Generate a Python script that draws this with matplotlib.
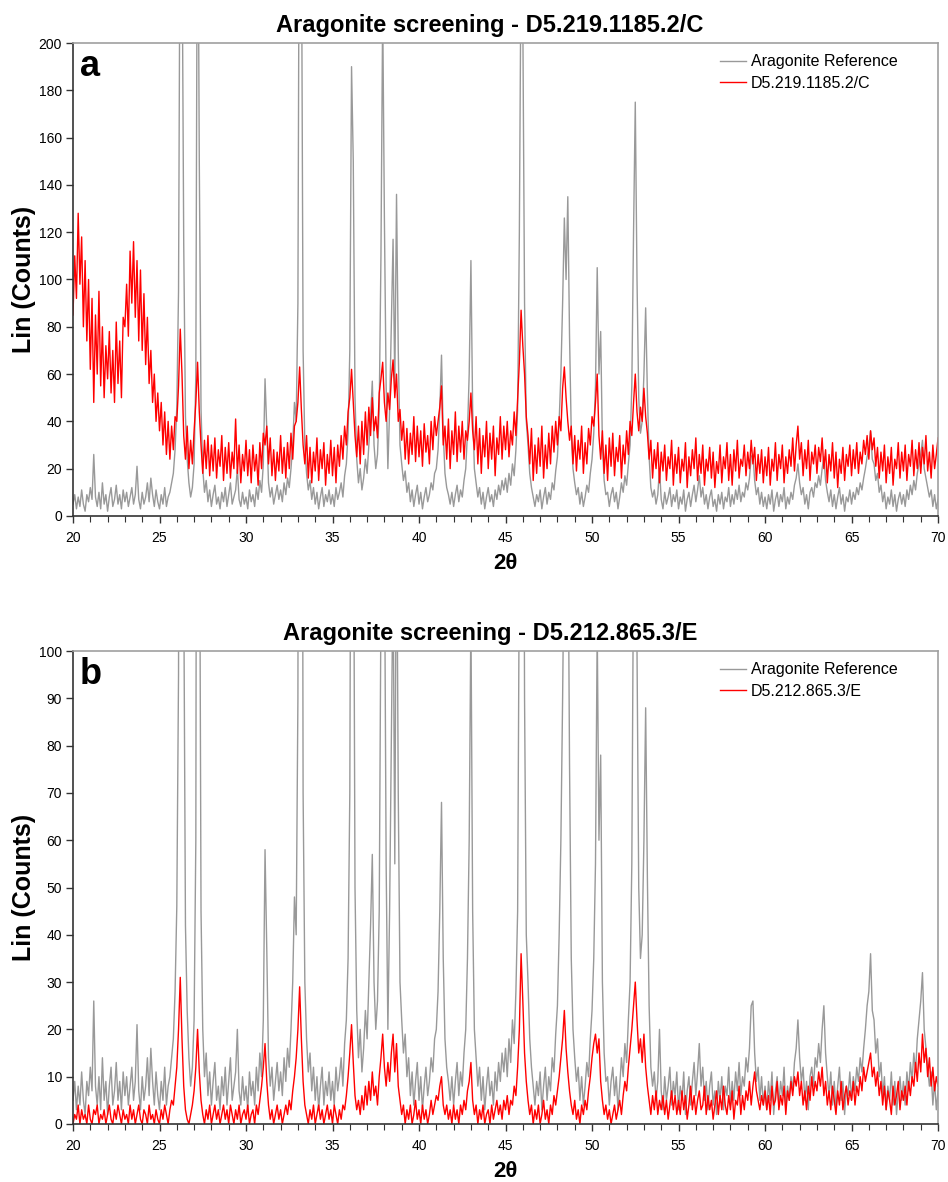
import numpy as np
import matplotlib.pyplot as plt

plt.rcParams['font.family'] = ['Liberation Sans', 'DejaVu Sans']

# 2-theta grid, 0.1 degree steps from 20 to 70
two_theta = np.round(20 + 0.1 * np.arange(501), 1)

# aragonite reference pattern (counts)
ref_20 = [5, 9, 3, 8, 4, 11, 5, 2, 9, 6, 12, 7, 26, 8, 4, 10, 3, 14, 5, 9,
          2, 8, 12, 4, 7, 13, 5, 9, 3, 11, 6, 10, 4, 8, 12, 5, 9, 21, 7, 3,
          10, 5, 8, 14, 6, 16, 9, 4, 11, 6]
ref_25 = [3, 9, 5, 12, 4, 8, 10, 14, 18, 28, 46, 95, 280, 250, 115, 42, 24, 14, 8, 12,
          22, 60, 300, 150, 45, 20, 10, 15, 6, 11, 4, 9, 13, 5, 8, 3, 10, 6, 12, 4,
          9, 14, 5, 8, 11, 20, 7, 4, 10, 5]
ref_30 = [8, 3, 11, 6, 9, 4, 12, 7, 15, 10, 22, 58, 37, 14, 8, 12, 5, 9, 13, 7,
          11, 6, 14, 9, 16, 12, 20, 30, 48, 40, 90, 320, 260, 70, 30, 18, 11, 15, 7, 12,
          5, 10, 3, 8, 12, 4, 9, 6, 11, 5]
ref_35 = [9, 4, 12, 7, 10, 14, 8, 17, 22, 35, 70, 190, 150, 50, 24, 14, 20, 11, 16, 24,
          18, 30, 42, 57, 30, 20, 26, 45, 110, 215, 125, 55, 20, 45, 80, 117, 55, 136, 70, 30,
          22, 15, 19, 10, 14, 6, 11, 4, 9, 13]
ref_40 = [5, 10, 3, 8, 12, 6, 9, 14, 11, 18, 20, 28, 45, 68, 35, 18, 12, 9, 5, 10,
          4, 9, 13, 6, 11, 8, 15, 20, 35, 60, 108, 45, 20, 14, 8, 12, 5, 10, 3, 8,
          12, 6, 9, 4, 11, 7, 13, 9, 15, 11]
ref_45 = [16, 10, 18, 13, 22, 17, 28, 45, 120, 240, 210, 90, 40, 30, 18, 12, 8, 4, 9, 6,
          11, 3, 8, 12, 5, 10, 7, 14, 11, 19, 25, 40, 60, 90, 126, 100, 135, 76, 35, 20,
          14, 9, 12, 5, 10, 4, 8, 13, 10, 18]
ref_50 = [24, 35, 55, 105, 60, 78, 30, 15, 9, 10, 4, 9, 12, 6, 10, 3, 8, 14, 10, 17,
          13, 22, 30, 55, 120, 175, 100, 50, 35, 40, 60, 88, 52, 25, 12, 8, 11, 5, 9, 20,
          7, 3, 10, 5, 8, 12, 4, 9, 6, 11]
ref_55 = [3, 8, 5, 11, 2, 7, 10, 4, 9, 13, 6, 11, 17, 8, 12, 5, 9, 3, 8, 11,
          4, 7, 2, 9, 5, 10, 3, 8, 6, 12, 4, 9, 5, 11, 7, 13, 6, 10, 8, 14,
          11, 16, 25, 26, 15, 9, 12, 5, 10, 4]
ref_60 = [8, 3, 9, 5, 11, 2, 7, 10, 4, 9, 6, 12, 3, 8, 5, 10, 7, 13, 16, 22,
          14, 9, 12, 5, 9, 3, 10, 12, 8, 14, 12, 17, 13, 20, 25, 15, 10, 6, 11, 4,
          9, 3, 8, 12, 5, 9, 2, 8, 6, 11]
ref_65 = [5, 10, 7, 12, 9, 14, 11, 16, 20, 25, 28, 36, 24, 22, 15, 18, 10, 13, 6, 10,
          3, 8, 5, 11, 4, 9, 2, 7, 10, 5, 9, 4, 11, 7, 13, 9, 15, 11, 18, 22,
          26, 32, 20, 16, 12, 8, 11, 4, 9, 3, 7]

# sample D5.219.1185.2/C (panel a)
c_20 = [85, 110, 92, 128, 98, 118, 80, 108, 74, 100, 62, 92, 48, 85, 60, 95, 55, 80, 50, 72,
        58, 78, 52, 70, 48, 82, 56, 74, 50, 84, 80, 98, 76, 112, 90, 116, 84, 108, 74, 104,
        70, 94, 64, 84, 56, 70, 48, 60, 40, 52]
c_25 = [36, 48, 30, 44, 26, 40, 24, 38, 28, 42, 40, 55, 79, 60, 34, 24, 38, 20, 32, 22,
        36, 48, 65, 44, 30, 18, 32, 20, 34, 17, 30, 19, 33, 16, 28, 21, 34, 15, 29, 18,
        31, 16, 27, 20, 41, 18, 30, 14, 26, 19]
c_30 = [32, 17, 28, 14, 30, 19, 26, 13, 31, 20, 35, 30, 38, 22, 33, 17, 28, 15, 27, 19,
        34, 18, 29, 16, 31, 20, 35, 24, 38, 40, 48, 63, 45, 30, 22, 34, 16, 29, 14, 27,
        19, 33, 15, 28, 20, 31, 13, 26, 18, 32]
c_35 = [17, 29, 14, 30, 21, 34, 24, 38, 30, 44, 50, 62, 48, 34, 25, 38, 22, 40, 26, 44,
        30, 46, 34, 50, 36, 42, 33, 52, 58, 65, 48, 40, 52, 45, 58, 66, 50, 60, 40, 45,
        32, 40, 24, 37, 22, 35, 26, 42, 23, 38]
c_40 = [25, 36, 21, 39, 27, 34, 22, 40, 28, 42, 34, 40, 46, 55, 30, 38, 24, 41, 20, 36,
        26, 44, 23, 38, 27, 40, 24, 36, 32, 40, 52, 36, 28, 42, 22, 37, 18, 34, 25, 40,
        20, 35, 24, 38, 17, 33, 26, 42, 24, 38]
c_45 = [28, 40, 25, 36, 30, 44, 34, 50, 65, 87, 72, 60, 42, 34, 22, 37, 15, 30, 18, 33,
        21, 38, 16, 30, 20, 35, 22, 38, 27, 40, 30, 42, 36, 54, 63, 50, 40, 32, 38, 22,
        34, 19, 32, 24, 38, 18, 31, 22, 37, 30]
c_50 = [42, 38, 48, 60, 34, 24, 36, 18, 30, 15, 33, 21, 35, 17, 29, 23, 34, 16, 30, 22,
        36, 26, 40, 34, 48, 60, 44, 36, 46, 40, 54, 42, 35, 24, 32, 16, 28, 20, 31, 14,
        27, 19, 30, 15, 25, 20, 32, 13, 26, 18]
c_55 = [29, 14, 24, 19, 31, 12, 25, 17, 28, 20, 33, 15, 26, 18, 30, 13, 24, 19, 29, 16,
        27, 12, 23, 18, 30, 14, 25, 20, 31, 15, 26, 13, 28, 19, 32, 16, 24, 21, 30, 17,
        27, 20, 32, 22, 29, 15, 26, 18, 28, 14]
c_60 = [25, 17, 29, 13, 24, 19, 31, 15, 26, 20, 30, 14, 25, 18, 28, 21, 33, 19, 30, 38,
        24, 31, 17, 28, 20, 32, 15, 27, 22, 30, 18, 29, 23, 33, 20, 28, 14, 26, 19, 31,
        16, 27, 12, 24, 18, 29, 15, 26, 21, 30]
c_65 = [17, 28, 20, 31, 18, 27, 22, 32, 26, 34, 24, 36, 28, 33, 21, 29, 16, 27, 19, 30,
        14, 25, 18, 29, 13, 24, 20, 31, 16, 27, 19, 30, 15, 26, 21, 32, 17, 28, 20, 31,
        18, 29, 22, 34, 19, 27, 16, 30, 20, 26, 33]

# sample D5.212.865.3/E (panel b)
e_20 = [0, 2, 1, 4, 0, 3, 1, 2, 0, 4, 1, 0, 3, 2, 4, 0, 2, 1, 3, 0,
        2, 4, 1, 0, 3, 1, 4, 2, 0, 3, 1, 2, 0, 4, 1, 3, 0, 2, 4, 1,
        0, 3, 2, 0, 4, 1, 2, 0, 3, 1]
e_25 = [0, 3, 1, 4, 2, 0, 3, 5, 4, 8, 12, 20, 31, 18, 8, 3, 1, 0, 2, 4,
        7, 12, 20, 11, 5, 2, 0, 3, 1, 4, 0, 2, 4, 1, 3, 0, 2, 4, 1, 3,
        0, 4, 2, 0, 3, 1, 4, 0, 2, 3]
e_30 = [1, 4, 0, 2, 3, 0, 4, 2, 5, 8, 12, 17, 9, 4, 1, 3, 0, 2, 4, 1,
        3, 0, 2, 4, 2, 5, 3, 7, 10, 14, 20, 29, 18, 9, 4, 2, 0, 3, 1, 4,
        0, 2, 4, 1, 3, 0, 2, 4, 1, 3]
e_35 = [0, 4, 2, 0, 3, 1, 4, 3, 6, 10, 15, 21, 13, 6, 3, 5, 2, 6, 3, 8,
        4, 9, 5, 11, 6, 8, 4, 10, 14, 19, 12, 8, 13, 9, 15, 19, 11, 17, 8, 5,
        2, 4, 0, 3, 1, 4, 0, 2, 5, 1]
e_40 = [3, 0, 4, 1, 3, 0, 2, 5, 2, 4, 6, 5, 8, 10, 4, 2, 4, 1, 3, 0,
        4, 1, 3, 0, 4, 2, 5, 3, 7, 9, 13, 5, 2, 4, 0, 3, 1, 4, 0, 2,
        3, 0, 4, 1, 3, 5, 2, 4, 1, 5]
e_45 = [3, 6, 2, 5, 4, 8, 6, 12, 20, 36, 26, 15, 9, 5, 2, 4, 0, 3, 1, 4,
        0, 2, 5, 1, 3, 0, 4, 2, 6, 4, 7, 10, 14, 18, 24, 16, 11, 7, 4, 2,
        5, 1, 3, 0, 4, 2, 5, 3, 7, 10]
e_50 = [14, 17, 19, 15, 18, 9, 5, 2, 4, 1, 3, 0, 2, 4, 1, 3, 5, 2, 6, 9,
        7, 12, 16, 20, 25, 30, 22, 15, 18, 13, 19, 12, 8, 5, 2, 6, 3, 7, 2, 5,
        3, 6, 2, 5, 1, 4, 7, 3, 6, 2]
e_55 = [5, 2, 7, 3, 6, 1, 4, 8, 3, 6, 2, 5, 7, 3, 4, 8, 2, 6, 3, 5,
        1, 4, 7, 2, 6, 3, 8, 4, 2, 6, 3, 7, 1, 5, 4, 8, 2, 6, 3, 7,
        5, 9, 4, 8, 11, 7, 5, 3, 6, 4]
e_60 = [7, 3, 6, 2, 8, 4, 5, 9, 3, 6, 4, 8, 2, 7, 5, 9, 6, 10, 8, 11,
        6, 9, 4, 7, 3, 8, 5, 10, 6, 9, 7, 11, 8, 12, 6, 9, 4, 7, 3, 8,
        5, 2, 7, 4, 9, 3, 6, 8, 4, 7]
e_65 = [5, 9, 4, 8, 6, 10, 7, 12, 9, 11, 13, 15, 10, 12, 8, 11, 6, 9, 4, 8,
        3, 7, 5, 2, 8, 4, 6, 9, 3, 7, 5, 8, 4, 9, 6, 10, 8, 13, 9, 15,
        11, 19, 13, 16, 10, 14, 8, 12, 7, 10, 8]

reference = ref_20 + ref_25 + ref_30 + ref_35 + ref_40 + ref_45 + ref_50 + ref_55 + ref_60 + ref_65
sample_c = c_20 + c_25 + c_30 + c_35 + c_40 + c_45 + c_50 + c_55 + c_60 + c_65
sample_e = e_20 + e_25 + e_30 + e_35 + e_40 + e_45 + e_50 + e_55 + e_60 + e_65


def draw_panel(ax, sample, name, ymax, ystep, letter):
    ax.plot(two_theta, reference, color='#999999', lw=1.0, label='Aragonite Reference')
    ax.plot(two_theta, sample, color='#ff0000', lw=1.0, label=name)
    ax.set_xlim(20, 70)
    ax.set_ylim(0, ymax)
    ax.set_xticks(np.arange(20, 71, 5))
    ax.set_xticks(np.arange(20, 71, 1), minor=True)
    ax.set_yticks(np.arange(0, ymax + 1, ystep))
    ax.tick_params(axis='both', which='major', direction='out', length=5, width=1,
                   labelsize=10, color='#333333', pad=3)
    ax.tick_params(axis='x', which='major', pad=6)
    ax.tick_params(axis='x', which='minor', direction='out', length=4, width=0.8, color='#333333')
    for s in ['left', 'bottom']:
        ax.spines[s].set_color('#333333')
        ax.spines[s].set_linewidth(1.2)
    for s in ['top', 'right']:
        ax.spines[s].set_color('#a0a0a0')
        ax.spines[s].set_linewidth(1.2)
    ax.set_title('Aragonite screening - ' + name, fontsize=17, fontweight='bold',
                 pad=8, x=0.482)
    ax.set_ylabel('Lin (Counts)', fontsize=18, fontweight='bold')
    ax.yaxis.set_label_coords(-0.043, 0.5)
    ax.set_xlabel('2θ', fontsize=16, fontweight='bold')
    ax.xaxis.set_label_coords(0.5, -0.078)
    ax.text(0.008, 0.988, letter, transform=ax.transAxes, fontsize=26,
            fontweight='bold', va='top', ha='left')
    ax.legend(loc='upper left', bbox_to_anchor=(0.748, 0.976), frameon=False,
              fontsize=11.5, handlelength=1.6, handletextpad=0.35, labelspacing=0.4,
              borderpad=0, borderaxespad=0)


fig = plt.figure(figsize=(9.48, 11.82), dpi=100)
ax_a = fig.add_axes([0.077, 0.5635, 0.9125, 0.4001])
ax_b = fig.add_axes([0.077, 0.0491, 0.9125, 0.4001])

draw_panel(ax_a, sample_c, 'D5.219.1185.2/C', 200, 20, 'a')
draw_panel(ax_b, sample_e, 'D5.212.865.3/E', 100, 10, 'b')

fig.savefig('out.png', dpi=100)
